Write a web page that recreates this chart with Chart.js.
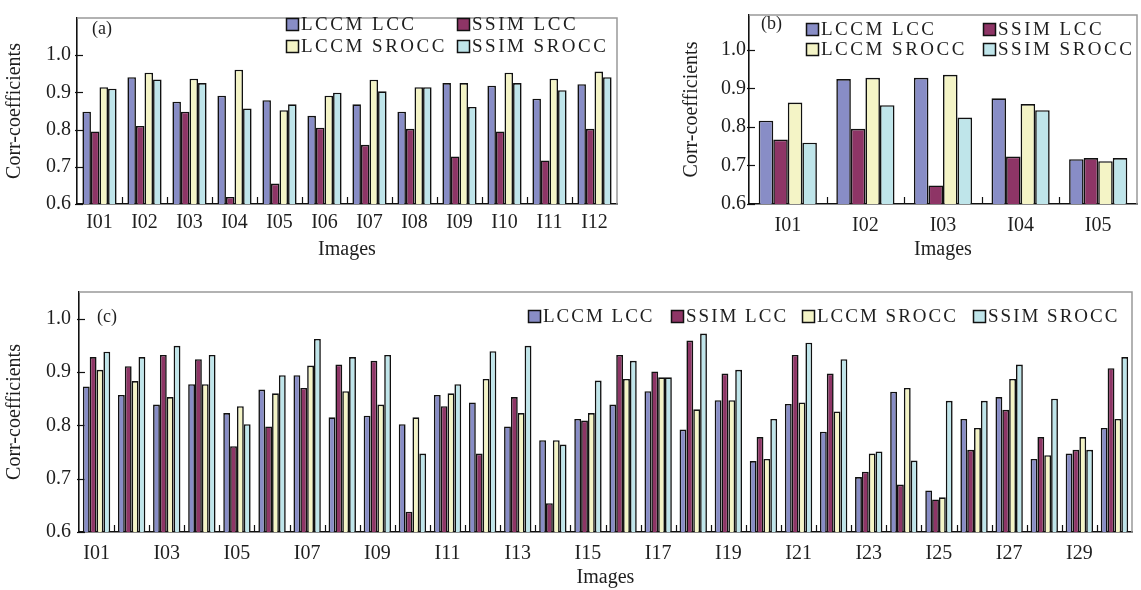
<!DOCTYPE html>
<html>
<head>
<meta charset="utf-8">
<script src="https://cdn.jsdelivr.net/npm/chart.js@4.4.0/dist/chart.umd.min.js"></script>
<style>
  body { margin: 0; background: #fff; width: 1141px; height: 590px; overflow: hidden; position: relative; }
  canvas { position: absolute; }
</style>
</head>
<body>
<canvas id="chartA" width="645" height="265" style="left:0;top:0"></canvas>
<canvas id="chartB" width="496" height="265" style="left:645px;top:0"></canvas>
<canvas id="chartC" width="1141" height="320" style="left:0;top:270px"></canvas>
<script>
// series + colours shared by all three panels
const seriesNames = ['LCCM LCC', 'SSIM LCC', 'LCCM SROCC', 'SSIM SROCC'];
const seriesColors = ['#888dc6', '#8e3566', '#f4f4c6', '#bfe5ea'];
const yTicks = [0.6, 0.7, 0.8, 0.9, 1.0];

// (a)
const imagesA = ['I01','I02','I03','I04','I05','I06','I07','I08','I09','I10','I11','I12'];
const lccmLccA   = [0.848, 0.941, 0.875, 0.891, 0.879, 0.837, 0.868, 0.848, 0.925, 0.918, 0.883, 0.922];
const ssimLccA   = [0.795, 0.810, 0.848, 0.619, 0.655, 0.805, 0.759, 0.802, 0.728, 0.795, 0.717, 0.802];
const lccmSroccA = [0.914, 0.953, 0.937, 0.961, 0.852, 0.891, 0.934, 0.914, 0.925, 0.953, 0.937, 0.956];
const ssimSroccA = [0.910, 0.935, 0.925, 0.857, 0.868, 0.899, 0.903, 0.914, 0.861, 0.925, 0.906, 0.941];

// (b)
const imagesB = ['I01','I02','I03','I04','I05'];
const lccmLccB   = [0.816, 0.924, 0.927, 0.874, 0.716];
const ssimLccB   = [0.767, 0.795, 0.648, 0.723, 0.719];
const lccmSroccB = [0.863, 0.927, 0.935, 0.859, 0.711];
const ssimSroccB = [0.759, 0.856, 0.824, 0.843, 0.719];

// (c)
const imagesC = ['I01','I02','I03','I04','I05','I06','I07','I08','I09','I10',
                 'I11','I12','I13','I14','I15','I16','I17','I18','I19','I20',
                 'I21','I22','I23','I24','I25','I26','I27','I28','I29','I30'];
const lccmLccC   = [0.873, 0.857, 0.839, 0.877, 0.823, 0.867, 0.894, 0.815, 0.818, 0.802,
                    0.857, 0.843, 0.798, 0.772, 0.812, 0.839, 0.864, 0.792, 0.847, 0.733,
                    0.840, 0.788, 0.703, 0.863, 0.678, 0.812, 0.853, 0.737, 0.747, 0.795];
const ssimLccC   = [0.928, 0.911, 0.932, 0.924, 0.761, 0.798, 0.870, 0.914, 0.921, 0.638,
                    0.836, 0.747, 0.853, 0.654, 0.809, 0.932, 0.901, 0.959, 0.897, 0.778,
                    0.932, 0.897, 0.713, 0.689, 0.661, 0.754, 0.829, 0.778, 0.754, 0.907];
const lccmSroccC = [0.904, 0.883, 0.853, 0.877, 0.836, 0.860, 0.912, 0.864, 0.839, 0.815,
                    0.860, 0.887, 0.823, 0.772, 0.823, 0.887, 0.890, 0.830, 0.847, 0.737,
                    0.843, 0.826, 0.747, 0.870, 0.665, 0.795, 0.887, 0.744, 0.778, 0.812];
const ssimSroccC = [0.938, 0.928, 0.949, 0.932, 0.802, 0.894, 0.962, 0.928, 0.932, 0.747,
                    0.877, 0.939, 0.949, 0.764, 0.884, 0.921, 0.890, 0.972, 0.904, 0.812,
                    0.955, 0.924, 0.751, 0.734, 0.846, 0.846, 0.914, 0.850, 0.754, 0.928];

const FONT = 'Liberation Serif';
const TXT = '#1e1e1e';

// gray top/right frame, short inner ticks, panel tag and a boxed legend
const panelDeco = {
  id: 'panelDeco',
  beforeDatasetsDraw(chart) {
    const { ctx, chartArea: a, scales: { x, y } } = chart;
    const step = x.getPixelForValue(1) - x.getPixelForValue(0);
    ctx.save();
    ctx.strokeStyle = '#111';
    ctx.lineWidth = 1.2;
    y.ticks.forEach(t => {
      const py = Math.round(y.getPixelForValue(t.value)) + 0.5;
      ctx.beginPath(); ctx.moveTo(a.left - 2, py); ctx.lineTo(a.left + 6, py); ctx.stroke();
    });
    for (let i = 1; i < x.ticks.length; i++) {
      const px = Math.round(x.getPixelForValue(i) - step / 2) + 0.5;
      ctx.beginPath(); ctx.moveTo(px, a.bottom); ctx.lineTo(px, a.bottom - 7); ctx.stroke();
    }
    ctx.restore();
  },
  afterDraw(chart, args, opts) {
    const { ctx, chartArea: a } = chart;
    ctx.save();
    ctx.strokeStyle = '#999';
    ctx.lineWidth = 1.5;
    ctx.beginPath();
    ctx.moveTo(a.left, a.top); ctx.lineTo(a.right, a.top); ctx.lineTo(a.right, a.bottom);
    ctx.stroke();

    ctx.fillStyle = TXT;
    ctx.font = '18px "' + FONT + '"';
    ctx.textBaseline = 'middle';
    ctx.fillText(opts.tag, opts.tagX, opts.tagY);

    ctx.font = '19px "' + FONT + '"';
    ctx.letterSpacing = opts.spacing + 'px';
    chart.data.datasets.forEach((ds, i) => {
      const bx = opts.boxX[i], by = opts.boxY[i];
      ctx.fillStyle = ds.backgroundColor;
      ctx.fillRect(bx, by, 12, 12);
      ctx.strokeStyle = '#111';
      ctx.lineWidth = 1.5;
      ctx.strokeRect(bx + 0.5, by + 0.5, 12, 12);
      ctx.fillStyle = TXT;
      ctx.fillText(ds.label, bx + 15, by + 7);
    });
    ctx.restore();
  }
};

function makeChart(id, labels, series, cfg) {
  const datasets = series.map((d, i) => ({
    label: seriesNames[i],
    data: d,
    backgroundColor: seriesColors[i],
    borderColor: '#111',
    borderWidth: 1.6,
    borderSkipped: 'bottom',
    categoryPercentage: cfg.catPct,
    barPercentage: 1.0
  }));
  return new Chart(document.getElementById(id), {
    type: 'bar',
    data: { labels: labels, datasets: datasets },
    plugins: [panelDeco],
    options: {
      responsive: false,
      animation: false,
      devicePixelRatio: 1,
      layout: { padding: cfg.padding },
      plugins: {
        legend: { display: false },
        tooltip: { enabled: false },
        panelDeco: cfg.deco
      },
      scales: {
        x: {
          grid: { display: false, drawTicks: false },
          border: { display: true, color: '#111', width: 1.6 },
          ticks: {
            autoSkip: false,
            maxRotation: 0,
            padding: cfg.xPad,
            color: TXT,
            font: { family: FONT, size: 20 },
            callback: function (v, i) { return (i % cfg.every === 0) ? this.getLabelForValue(v) : ''; }
          },
          title: { display: true, text: 'Images', color: TXT, font: { family: FONT, size: 20 }, padding: { top: 0, bottom: cfg.xTitlePad } },
          afterFit: s => { s.height = cfg.xHeight; }
        },
        y: {
          min: 0.6,
          max: cfg.yMax,
          grid: { display: false, drawTicks: false },
          border: { display: true, color: '#111', width: 1.6 },
          afterBuildTicks: s => { s.ticks = yTicks.map(v => ({ value: v })); },
          ticks: {
            padding: cfg.yPad,
            color: TXT,
            font: { family: FONT, size: 20 },
            callback: v => Number(v).toFixed(1)
          },
          title: { display: true, text: 'Corr-coefficients', color: TXT, font: { family: FONT, size: 20 }, padding: { top: cfg.yTitlePad, bottom: 0 } },
          afterFit: s => { s.width = cfg.yWidth; }
        }
      }
    }
  });
}

makeChart('chartA', imagesA, [lccmLccA, ssimLccA, lccmSroccA, ssimSroccA], {
  catPct: 0.76, padding: { left: 0, top: 5, right: 28, bottom: 0 },
  xPad: 7, xHeight: 61, xTitlePad: 3, yWidth: 77, yPad: 6, yTitlePad: 3, yMax: 1.1, every: 1,
  deco: { tag: '(a)', tagX: 92, tagY: 29, spacing: 2.5,
          boxX: [286, 457, 286, 457], boxY: [18, 18, 40, 40] }
});

makeChart('chartB', imagesB, [lccmLccB, ssimLccB, lccmSroccB, ssimSroccB], {
  catPct: 0.75, padding: { left: 0, top: 5, right: 4, bottom: 0 },
  xPad: 10, xHeight: 61, xTitlePad: 3, yWidth: 104, yPad: 3, yTitlePad: 35, yMax: 1.09, every: 1,
  deco: { tag: '(b)', tagX: 116, tagY: 24, spacing: 2.5,
          boxX: [161, 338, 161, 338], boxY: [23, 23, 43, 43] }
});

makeChart('chartC', imagesC, [lccmLccC, ssimLccC, lccmSroccC, ssimSroccC], {
  catPct: 0.78, padding: { left: 0, top: 22, right: 9, bottom: 0 },
  xPad: 10, xHeight: 58, xTitlePad: 0, yWidth: 79, yPad: 8, yTitlePad: 3, yMax: 1.05, every: 2,
  deco: { tag: '(c)', tagX: 97, tagY: 47, spacing: 2,
          boxX: [528, 671, 802, 973], boxY: [40, 40, 40, 40] }
});
</script>
</body>
</html>
